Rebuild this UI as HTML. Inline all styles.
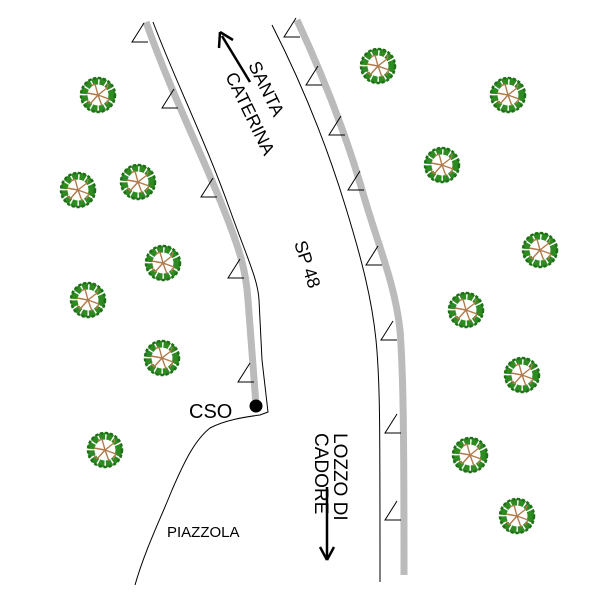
<!DOCTYPE html>
<html><head><style>html,body{margin:0;padding:0;background:#fff}svg{display:block}</style></head>
<body>
<svg width="600" height="600" viewBox="0 0 600 600" xmlns="http://www.w3.org/2000/svg" font-family="Liberation Sans, sans-serif">
<defs>
<g id="tree">
 <circle r="14" fill="none" stroke="#2e8b22" stroke-width="7" stroke-dasharray="6 1.5"/>
 <circle r="17" fill="none" stroke="#1f6e18" stroke-width="2.5" stroke-dasharray="3 2"/>
 <g stroke="#b07a4a" stroke-width="1.4" fill="none">
  <path d="M0 0 L-3 -11 M0 0 L9 -7 M0 0 L11 4 M0 0 L4 11 M0 0 L-8 9 M0 0 L-11 -2 M-3 -11 L-7 -9 M9 -7 L10 -11 M11 4 L8 9 M-8 9 L-11 5"/>
 </g>
</g>
<g id="tri"><path d="M0 -19 L-12 0 L4 0" fill="none" stroke="#000" stroke-width="1"/></g>
</defs>

<!-- left road edge -->
<path d="M153 22 C175 80 205 140 230 210 C248 260 258 280 259 300 L262 360 L268 412 L260 415 C245 417 225 420 210 428 C195 440 185 460 172 490 C160 520 145 550 135 585" fill="none" stroke="#000" stroke-width="1"/>
<path d="M146 22 C170 90 200 150 222 205 C240 250 246 270 248 300 L256 405" fill="none" stroke="#bbb" stroke-width="7"/>
<!-- right road edge -->
<path d="M272 25 C300 80 325 140 345 205 C362 260 372 300 376 340 C380 380 380 420 380 582" fill="none" stroke="#000" stroke-width="1"/>
<path d="M297 20 C325 80 348 140 365 200 C380 250 395 285 400 330 C403 370 404 420 404 575" fill="none" stroke="#bbb" stroke-width="7"/>

<!-- triangles -->
<use href="#tri" x="144" y="42"/>
<use href="#tri" x="174" y="108"/>
<use href="#tri" x="213" y="197"/>
<use href="#tri" x="240" y="278"/>
<use href="#tri" x="250" y="382"/>
<use href="#tri" x="296" y="37"/>
<use href="#tri" x="318" y="85"/>
<use href="#tri" x="341" y="135"/>
<use href="#tri" x="360" y="190"/>
<use href="#tri" x="378" y="265"/>
<use href="#tri" x="393" y="340"/>
<use href="#tri" x="397" y="433"/>
<use href="#tri" x="397" y="520"/>

<!-- trees -->
<use href="#tree" x="98" y="95"/>
<use href="#tree" x="78" y="190"/>
<use href="#tree" x="138" y="182"/>
<use href="#tree" x="163" y="263"/>
<use href="#tree" x="88" y="300"/>
<use href="#tree" x="162" y="358"/>
<use href="#tree" x="105" y="450"/>
<use href="#tree" x="378" y="66"/>
<use href="#tree" x="508" y="95"/>
<use href="#tree" x="442" y="165"/>
<use href="#tree" x="540" y="250"/>
<use href="#tree" x="466" y="310"/>
<use href="#tree" x="522" y="375"/>
<use href="#tree" x="470" y="455"/>
<use href="#tree" x="517" y="516"/>

<!-- arrows -->
<line x1="250" y1="82" x2="222" y2="36" stroke="#000" stroke-width="2.5"/>
<path d="M220 32 L219 48 M220 32 L233 40" stroke="#000" stroke-width="2.5" fill="none"/>
<line x1="327" y1="487" x2="327" y2="558" stroke="#000" stroke-width="2.5"/>
<path d="M327 560 L320 547 M327 560 L334 547" stroke="#000" stroke-width="2.5" fill="none"/>

<!-- texts -->
<g font-size="18" fill="#000">
 <text transform="translate(248,65) rotate(64)">SANTA</text>
 <text transform="translate(225,76) rotate(64)">CATERINA</text>
 <text transform="translate(294,243) rotate(72)">SP 48</text>
 <text transform="translate(334,433) rotate(90)" font-size="19">LOZZO DI</text>
 <text transform="translate(315,433) rotate(90)" font-size="19">CADORE</text>
 <text x="189" y="418" font-size="20">CSO</text>
</g>
<text x="167" y="537" font-size="15">PIAZZOLA</text>
<circle cx="256" cy="406" r="6.5" fill="#000"/>
</svg>
</body></html>
